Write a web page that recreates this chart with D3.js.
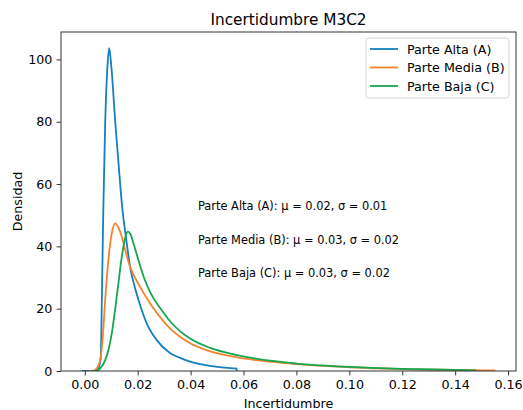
<!DOCTYPE html>
<html>
<head>
<meta charset="utf-8">
<script src="https://cdn.jsdelivr.net/npm/d3@7"></script>
<style>
  body { margin: 0; background: #fff; }
  text { font-family: "DejaVu Sans", sans-serif; fill: #000; }
</style>
</head>
<body>
<div id="plot"></div>
<script>
// Series names and colours
const seriesNames = ["Parte Alta (A)", "Parte Media (B)", "Parte Baja (C)"];
const seriesColors = ["#1380c0", "#f5822c", "#17a650"];

// Curves (uncertainty, density)
const altaX = [-0.0011, 0.003, 0.0045, 0.0052, 0.006, 0.0065, 0.0070, 0.0077, 0.0085, 0.0092, 0.0100, 0.0115, 0.0128, 0.0142, 0.0157, 0.0171, 0.0187, 0.0203, 0.0234, 0.0272, 0.0323, 0.036, 0.0398, 0.0474, 0.0562, 0.0573, 0.0575];
const altaY = [0, 0, 0.2, 1, 4, 26, 52, 79.5, 97, 103.6, 98, 80, 66, 52, 42, 33.5, 27.5, 22.8, 15.3, 9.9, 5.7, 4.2, 3.0, 1.65, 0.85, 0.8, 0];

const mediaX = [0.0015, 0.0033, 0.0045, 0.0058, 0.0068, 0.0077, 0.0093, 0.0105, 0.0115, 0.0127, 0.014, 0.0155, 0.0171, 0.0209, 0.0247, 0.0297, 0.0323, 0.036, 0.0398, 0.0474, 0.0575, 0.070, 0.080, 0.1003, 0.12, 0.14, 0.1548, 0.1552];
const mediaY = [0, 0.1, 0.8, 3.5, 11, 22.8, 38.8, 45.5, 47.4, 46, 43.1, 38, 33.5, 27, 21.7, 16.0, 13.6, 11.0, 8.9, 6.3, 4.4, 3.0, 2.2, 1.2, 0.6, 0.35, 0.2, 0];

const bajaX = [0.0025, 0.0045, 0.006, 0.0077, 0.009, 0.0102, 0.0115, 0.0127, 0.0137, 0.0146, 0.0155, 0.0163, 0.0173, 0.0184, 0.0196, 0.0209, 0.0227, 0.0247, 0.0297, 0.0323, 0.036, 0.0398, 0.0474, 0.0575, 0.070, 0.080, 0.1003, 0.12, 0.14, 0.148];
const bajaY = [0, 0.1, 1, 3.5, 7, 12.1, 20, 28.1, 35, 39.9, 43.5, 44.7, 43.8, 41, 37.5, 33.8, 29.2, 25.3, 18.8, 15.9, 12.8, 10.4, 7.4, 5.1, 3.3, 2.4, 1.3, 0.7, 0.35, 0.2];

// Summary lines shown inside the plot
const statLabels = [
  "Parte Alta (A): \u03bc = 0.02, \u03c3 = 0.01",
  "Parte Media (B): \u03bc = 0.03, \u03c3 = 0.02",
  "Parte Baja (C): \u03bc = 0.03, \u03c3 = 0.02"
];

// Tick values
const xTicks = [0, 0.02, 0.04, 0.06, 0.08, 0.10, 0.12, 0.14, 0.16];
const yTicks = [0, 20, 40, 60, 80, 100];

const W = 523, H = 410;
const margin = {top: 32, right: 7, bottom: 39, left: 61},
  width = W - margin.left - margin.right,
  height = H - margin.top - margin.bottom;

const svg = d3.select("#plot")
  .append("svg")
  .attr("width", W)
  .attr("height", H);

const g = svg.append("g")
  .attr("transform", `translate(${margin.left},${margin.top})`);

const x = d3.scaleLinear().domain([-0.009, 0.163]).range([0, width]);
const y = d3.scaleLinear().domain([0, 108.8]).range([height, 0]);

const series = [
  altaX.map((v, i) => [v, altaY[i]]),
  mediaX.map((v, i) => [v, mediaY[i]]),
  bajaX.map((v, i) => [v, bajaY[i]])
];

const line = d3.line()
  .x(d => x(d[0]))
  .y(d => y(d[1]))
  .curve(d3.curveMonotoneX);

// Clip to the axes box
g.append("clipPath").attr("id", "clip")
  .append("rect").attr("width", width).attr("height", height);

g.append("g").attr("clip-path", "url(#clip)")
  .selectAll("path")
  .data(series)
  .enter()
  .append("path")
  .attr("d", line)
  .attr("fill", "none")
  .attr("stroke", (d, i) => seriesColors[i])
  .attr("stroke-width", 1.8)
  .attr("stroke-linejoin", "round");

// Axes
const xAxis = g.append("g")
  .attr("transform", `translate(0,${height})`)
  .call(d3.axisBottom(x).tickValues(xTicks).tickFormat(d3.format(".2f")).tickSize(4.4).tickPadding(4.2));

const yAxis = g.append("g")
  .call(d3.axisLeft(y).tickValues(yTicks).tickFormat(d3.format("d")).tickSize(4.4).tickPadding(4.2));

[xAxis, yAxis].forEach(a => {
  a.select(".domain").remove();
  a.selectAll("line").attr("stroke", "#333").attr("stroke-width", 1);
  a.selectAll("text").attr("font-size", "12.7px").attr("font-family", "DejaVu Sans").attr("fill", "#000");
});

// Frame
g.append("rect")
  .attr("width", width)
  .attr("height", height)
  .attr("fill", "none")
  .attr("stroke", "#333")
  .attr("stroke-width", 1);

// Title and axis labels
svg.append("text")
  .attr("x", margin.left + width / 2)
  .attr("y", 20)
  .attr("text-anchor", "middle")
  .attr("dominant-baseline", "central")
  .attr("font-size", "15.3px")
  .text("Incertidumbre M3C2");

svg.append("text")
  .attr("x", margin.left + width / 2)
  .attr("y", 403)
  .attr("text-anchor", "middle")
  .attr("dominant-baseline", "central")
  .attr("font-size", "12.7px")
  .text("Incertidumbre");

svg.append("text")
  .attr("transform", `translate(17,${margin.top + height / 2}) rotate(-90)`)
  .attr("text-anchor", "middle")
  .attr("dominant-baseline", "central")
  .attr("font-size", "12.7px")
  .text("Densidad");

// Stats text
g.selectAll(".stat")
  .data(statLabels)
  .enter()
  .append("text")
  .attr("class", "stat")
  .attr("x", 137)
  .attr("y", (d, i) => 174 + i * 33.6)
  .attr("dominant-baseline", "central")
  .attr("font-size", "11.4px")
  .text(d => d);

// Legend
const legend = g.append("g").attr("transform", `translate(${305},${6})`);
legend.append("rect")
  .attr("width", 143)
  .attr("height", 60)
  .attr("rx", 2.5)
  .attr("fill", "#fff")
  .attr("fill-opacity", 0.8)
  .attr("stroke", "#d4d4d4")
  .attr("stroke-width", 1);

const items = legend.selectAll(".item")
  .data(seriesNames)
  .enter()
  .append("g")
  .attr("class", "item")
  .attr("transform", (d, i) => `translate(0,${11 + i * 18.5})`);

items.append("line")
  .attr("x1", 4).attr("x2", 32)
  .attr("stroke", (d, i) => seriesColors[i])
  .attr("stroke-width", 1.8);

items.append("text")
  .attr("x", 41)
  .attr("dominant-baseline", "central")
  .attr("font-size", "12.7px")
  .text(d => d);
</script>
</body>
</html>
